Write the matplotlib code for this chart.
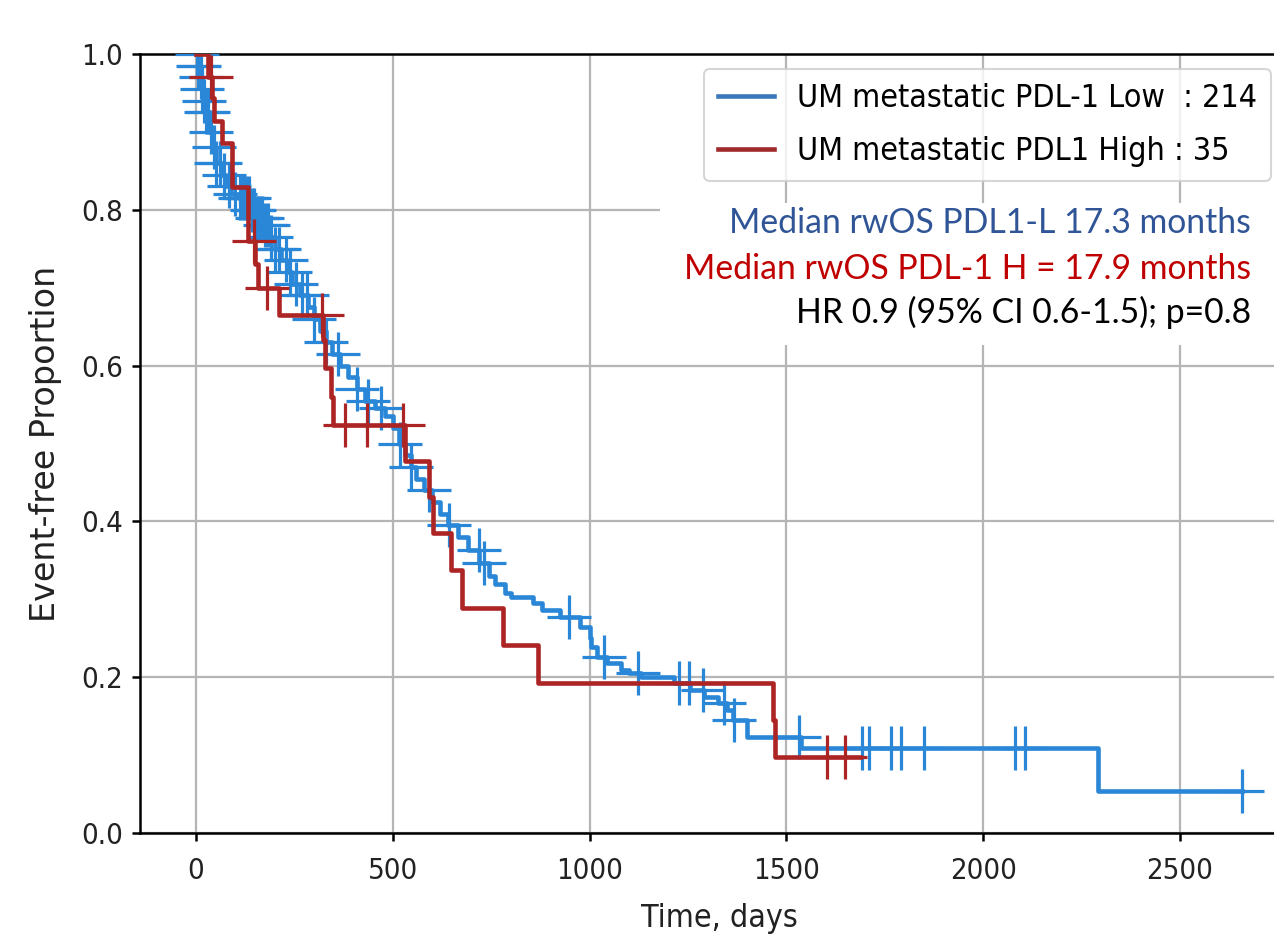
import numpy as np
import matplotlib
matplotlib.use("Agg")
import matplotlib.pyplot as plt
from matplotlib.lines import Line2D

# ---------------- data ----------------
low_times = [0, 5, 10, 15, 20, 25, 33, 40, 50, 65, 75, 90, 110, 140, 155, 170, 185, 200,
             215, 230, 245, 265, 285, 300, 315, 330, 345, 365, 385, 410, 430, 455, 480,
             500, 515, 530, 545, 560, 580, 600, 620, 640, 665, 690, 720, 745, 760, 785,
             800, 855, 880, 925, 975, 1000, 1003, 1020, 1045, 1080, 1100, 1130, 1215,
             1255, 1290, 1325, 1350, 1365, 1400, 1537, 2292, 2658]
low_surv = [1.0, 0.985, 0.97, 0.955, 0.94, 0.925, 0.90, 0.88, 0.86, 0.845, 0.83, 0.82,
            0.815, 0.80, 0.79, 0.78, 0.765, 0.75, 0.735, 0.72, 0.705, 0.69, 0.675, 0.66,
            0.645, 0.63, 0.615, 0.60, 0.585, 0.57, 0.555, 0.545, 0.535, 0.52, 0.50, 0.485,
            0.47, 0.455, 0.44, 0.425, 0.41, 0.395, 0.38, 0.363, 0.347, 0.33, 0.32, 0.308,
            0.303, 0.295, 0.286, 0.277, 0.264, 0.25, 0.239, 0.226, 0.218, 0.209, 0.205,
            0.20, 0.193, 0.184, 0.175, 0.167, 0.158, 0.145, 0.123, 0.109, 0.054, 0.054]
low_censor = [2, 5, 8, 12, 15, 20, 25, 30, 38, 45, 52, 60, 72, 85, 100, 112, 120, 128,
              135, 142, 148, 155, 160, 168, 175, 182, 190, 200, 212, 228, 240, 255, 270,
              283, 300, 331, 362, 410, 438, 470, 519, 545, 592, 643, 719, 732, 948, 1037,
              1123, 1227, 1253, 1289, 1342, 1367, 1533, 1691, 1711, 1765, 1790, 1849,
              2080, 2106, 2658]

high_times = [0, 30, 40, 45, 66, 92, 132, 150, 158, 210, 323, 328, 342, 347, 530, 591,
              601, 647, 677, 779, 868, 1466, 1471, 1686]
high_surv = [1.0, 0.971, 0.943, 0.914, 0.886, 0.829, 0.76, 0.73, 0.70, 0.665, 0.633,
             0.597, 0.56, 0.524, 0.477, 0.431, 0.385, 0.337, 0.289, 0.241, 0.193, 0.145,
             0.097, 0.097]
high_censor = [38, 148, 180, 321, 379, 435, 525, 1604, 1648]

labels = ["UM metastatic PDL-1 Low  : 214", "UM metastatic PDL1 High : 35"]
annot = ["Median rwOS PDL1-L 17.3 months",
         "Median rwOS PDL-1 H = 17.9 months",
         "HR 0.9 (95% CI 0.6-1.5); p=0.8"]
xticks = [0, 500, 1000, 1500, 2000, 2500]
yticks = [0.0, 0.2, 0.4, 0.6, 0.8, 1.0]

# ---------------- style ----------------
BLUE = "#2a86d6"
RED = "#ac2424"
FONT = "DejaVu Sans"
STRETCH = "condensed"

W, H = 1274, 942
fig = plt.figure(figsize=(W / 100, H / 100), dpi=100)
fig.patch.set_facecolor("white")

px_per_day = 0.3936
x_left = -142.3
x_right = 2800
ax_w = (x_right - x_left) * px_per_day
ax = fig.add_axes([140 / W, 109 / H, ax_w / W, 779 / H])
ax.set_xlim(x_left, x_right)
ax.set_ylim(0, 1.0)


def draw_km(times, surv, censor, color):
    t = np.asarray(times, float)
    s = np.asarray(surv, float)
    ax.step(t, s, where="post", color=color, lw=3.3, zorder=3)
    c = np.asarray(censor, float)
    idx = np.searchsorted(t, c, side="right") - 1
    ax.plot(c, s[idx], linestyle="none", marker="+", ms=31, mew=2.3,
            color=color, zorder=3)


draw_km(low_times, low_surv, low_censor, BLUE)
draw_km(high_times, high_surv, high_censor, RED)

ax.set_xticks(xticks)
ax.set_yticks(yticks)
ax.set_xticklabels([str(v) for v in xticks])
ax.set_yticklabels([f"{v:.1f}" for v in yticks])
ax.grid(True, color="#b5b5b5", lw=1.6, zorder=0)
ax.set_axisbelow(True)
for sp in ["left", "top", "bottom"]:
    ax.spines[sp].set_linewidth(1.8)
ax.spines["right"].set_visible(False)
ax.tick_params(axis="both", length=6, width=1.8, direction="out")
ax.tick_params(axis="x", pad=11)
ax.tick_params(axis="y", pad=6)
for lab in ax.get_xticklabels() + ax.get_yticklabels():
    lab.set_fontfamily(FONT)
    lab.set_fontstretch(STRETCH)
    lab.set_fontsize(21)
    lab.set_color("#222222")

ax.set_xlabel("Time, days", fontsize=23, family=FONT, stretch=STRETCH,
              color="#222222", labelpad=13)
ax.set_ylabel("Event-free Proportion", fontsize=24, family=FONT,
              color="#222222", labelpad=14)

handles = [Line2D([], [], color="#3a78bb", lw=3.3),
           Line2D([], [], color="#a0292b", lw=3.3)]
leg = ax.legend(handles, labels, loc="upper right",
                bbox_to_anchor=(1271 / W, 1 - 69 / H), bbox_transform=fig.transFigure,
                borderaxespad=0,
                prop={"family": FONT, "stretch": STRETCH, "size": 23},
                framealpha=0.8, edgecolor="#cccccc", borderpad=0.45,
                labelspacing=0.68, handlelength=1.75, handletextpad=0.7)
leg.get_frame().set_linewidth(1.5)

# white box behind annotation
fig.patches.append(plt.Rectangle((660 / W, 1 - 345 / H), (W - 660) / W, 142 / H,
                                 transform=fig.transFigure, facecolor="white",
                                 edgecolor="none", zorder=5))
ycs = [233, 279, 323]
cols = ["#2f5597", "#c00000", "#000000"]
for txt, yc, col in zip(annot, ycs, cols):
    fig.text(1251 / W, 1 - yc / H, txt, ha="right", va="baseline", fontsize=24.3,
             family="Lato", color=col, zorder=6)

fig.savefig("out.png", dpi=100, facecolor="white")
